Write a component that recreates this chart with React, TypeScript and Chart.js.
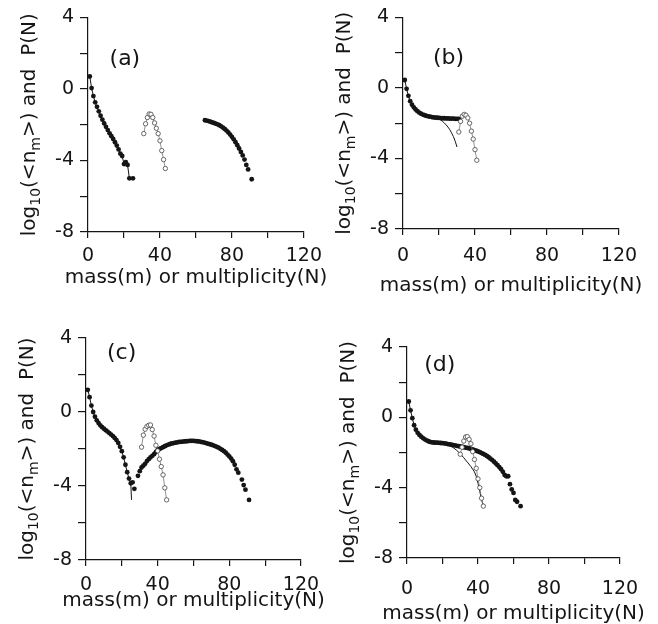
import React, { useEffect, useRef } from 'react';
import { Chart, registerables } from 'chart.js';
Chart.register(...registerables);

// ---------- shared axis text ----------
const X_AXIS_TITLE = 'mass(m) or multiplicity(N)';
const X_LABELED = [0, 40, 80, 120];
const Y_LABELED = [4, 0, -4, -8];
const PANEL_LABELS = ['(a)', '(b)', '(c)', '(d)'];

// ---------- panel (a) ----------
const A_FALL_M = [1, 2, 3, 4, 5, 6, 7, 8, 9, 10, 11, 12, 13, 14, 15, 16, 17, 18, 19, 20, 21, 22, 23, 25];
const A_FALL_V = [0.7, 0.05, -0.4, -0.75, -1.0, -1.25, -1.5, -1.72, -1.93, -2.12, -2.3, -2.48, -2.64, -2.8, -2.98, -3.17, -3.38, -3.62, -3.75, -4.2, -4.1, -4.25, -5.0, -5.0];
const A_OPEN_N = [31, 32, 33, 34, 35, 36, 37, 38, 39, 40, 41, 42, 43];
const A_OPEN_V = [-2.5, -1.95, -1.6, -1.4, -1.42, -1.6, -1.9, -2.2, -2.5, -2.9, -3.45, -3.95, -4.45];
const A_ARC_M = [65, 66, 67, 68, 69, 70, 71, 72, 73, 74, 75, 76, 77, 78, 79, 80, 81, 82, 83, 84, 85, 86, 87, 88, 89, 91];
const A_ARC_V = [-1.75, -1.77, -1.8, -1.83, -1.87, -1.9, -1.94, -1.98, -2.03, -2.09, -2.16, -2.24, -2.33, -2.43, -2.55, -2.68, -2.82, -2.98, -3.15, -3.33, -3.52, -3.72, -3.95, -4.25, -4.5, -5.05];

// ---------- panel (b) ----------
const B_DOT_M = [1, 2, 3, 4, 5, 6, 7, 8, 9, 10, 11, 12, 13, 14, 15, 16, 17, 18, 19, 20, 21, 22, 23, 24, 25, 26, 27, 28, 29, 30, 31];
const B_DOT_V = [0.45, -0.05, -0.45, -0.75, -0.95, -1.1, -1.22, -1.32, -1.4, -1.46, -1.51, -1.55, -1.58, -1.61, -1.63, -1.65, -1.67, -1.68, -1.69, -1.7, -1.71, -1.72, -1.72, -1.73, -1.73, -1.74, -1.74, -1.74, -1.75, -1.75, -1.75];
const B_CURVE_M = [1, 2, 3, 4, 5, 6, 7, 8, 9, 10, 11, 12, 13, 14, 15, 16, 17, 18, 19, 20, 21, 22, 23, 24, 25, 26, 27, 28, 29, 30];
const B_CURVE_V = [0.45, -0.05, -0.45, -0.75, -0.95, -1.1, -1.22, -1.32, -1.4, -1.46, -1.51, -1.55, -1.58, -1.61, -1.63, -1.65, -1.67, -1.68, -1.72, -1.76, -1.82, -1.9, -1.99, -2.1, -2.22, -2.37, -2.55, -2.76, -3.02, -3.35];
const B_OPEN_N = [31, 32, 33, 34, 35, 36, 37, 38, 39, 40, 41];
const B_OPEN_V = [-2.5, -1.9, -1.6, -1.5, -1.55, -1.7, -2.0, -2.45, -2.9, -3.5, -4.1];

// ---------- panel (c) ----------
const C_FALL_M = [1, 2, 3, 4, 5, 6, 7, 8, 9, 10, 11, 12, 13, 14, 15, 16, 17, 18, 19, 20, 21, 22, 23, 24, 25];
const C_FALL_V = [1.2, 0.8, 0.35, 0.0, -0.25, -0.45, -0.6, -0.72, -0.82, -0.9, -0.98, -1.06, -1.14, -1.22, -1.3, -1.4, -1.52, -1.67, -1.88, -2.12, -2.45, -2.85, -3.25, -3.6, -3.85];
const C_LINE_M = [1, 2, 3, 4, 5, 6, 7, 8, 9, 10, 11, 12, 13, 14, 15, 16, 17, 18, 19, 20, 21, 22, 23, 24, 25, 25.4];
const C_LINE_V = [1.2, 0.8, 0.35, 0.0, -0.25, -0.45, -0.6, -0.72, -0.82, -0.9, -0.98, -1.06, -1.14, -1.22, -1.3, -1.4, -1.52, -1.67, -1.88, -2.12, -2.45, -2.85, -3.25, -3.6, -3.85, -4.75];
const C_RISE_M = [26, 27, 29, 30, 31, 32, 33, 34, 35, 36, 37, 38, 39, 40, 41, 42, 43, 44, 45, 46, 47, 48, 49, 50, 51, 52, 53, 54, 55, 56, 57, 58, 59, 60, 61, 62, 63, 64, 65, 66, 67, 68, 69, 70, 71, 72, 73, 74, 75, 76, 77, 78, 79, 80, 81, 82, 83, 84, 85, 87, 88, 89, 91];
const C_RISE_V = [-3.8, -4.15, -3.45, -3.2, -3.0, -2.9, -2.8, -2.65, -2.55, -2.45, -2.37, -2.28, -2.15, -2.05, -2.0, -1.95, -1.9, -1.85, -1.8, -1.76, -1.73, -1.7, -1.68, -1.66, -1.64, -1.62, -1.61, -1.6, -1.59, -1.58, -1.57, -1.56, -1.56, -1.56, -1.57, -1.58, -1.59, -1.61, -1.63, -1.65, -1.68, -1.71, -1.74, -1.77, -1.8, -1.84, -1.88, -1.93, -1.99, -2.05, -2.12, -2.2, -2.3, -2.4, -2.52, -2.66, -2.85, -3.1, -3.28, -3.65, -3.95, -4.2, -4.75];
const C_OPEN_N = [31, 32, 33, 34, 35, 36, 37, 38, 39, 40, 41, 42, 43, 44, 45];
const C_OPEN_V = [-1.9, -1.25, -0.93, -0.78, -0.72, -0.7, -0.95, -1.3, -1.8, -2.1, -2.55, -2.95, -3.4, -4.1, -4.75];

// ---------- panel (d) ----------
const D_DOT_M = [1, 2, 3, 4, 5, 6, 7, 8, 9, 10, 11, 12, 13, 14, 15, 16, 17, 18, 19, 20, 21, 22, 23, 24, 25, 26, 27, 28, 29, 30, 31, 32, 33, 34, 35, 36, 37, 38, 39, 40, 41, 42, 43, 44, 45, 46, 47, 48, 49, 50, 51, 52, 53, 54, 55, 56, 57, 58, 59, 60, 61, 62, 64];
const D_DOT_V = [0.9, 0.4, -0.05, -0.45, -0.7, -0.88, -1.0, -1.1, -1.18, -1.25, -1.31, -1.36, -1.4, -1.42, -1.43, -1.44, -1.44, -1.45, -1.46, -1.47, -1.48, -1.5, -1.52, -1.54, -1.56, -1.58, -1.6, -1.62, -1.64, -1.66, -1.68, -1.7, -1.72, -1.74, -1.77, -1.8, -1.83, -1.86, -1.9, -1.94, -1.98, -2.03, -2.08, -2.14, -2.2, -2.27, -2.35, -2.43, -2.52, -2.62, -2.72, -2.83, -2.95, -3.1, -3.28, -3.35, -3.35, -3.8, -4.1, -4.3, -4.7, -4.8, -5.05];
const D_CURVE_M = [1, 2, 3, 4, 5, 6, 7, 8, 9, 10, 11, 12, 13, 14, 15, 16, 17, 18, 19, 20, 21, 22, 24, 26, 28, 30, 32, 34, 36, 38, 39, 40, 41, 42, 43];
const D_CURVE_V = [0.9, 0.4, -0.05, -0.45, -0.7, -0.88, -1.0, -1.1, -1.18, -1.25, -1.31, -1.36, -1.4, -1.42, -1.43, -1.44, -1.44, -1.45, -1.46, -1.47, -1.48, -1.5, -1.6, -1.72, -1.88, -2.07, -2.3, -2.55, -2.8, -3.1, -3.35, -3.75, -4.2, -4.7, -5.0];
const D_OPEN_N = [30, 31, 32, 33, 34, 35, 36, 37, 38, 39, 40, 41, 42, 43];
const D_OPEN_V = [-2.1, -1.7, -1.35, -1.12, -1.1, -1.25, -1.5, -1.95, -2.4, -2.9, -3.5, -4.0, -4.6, -5.05];

const FONT = '"DejaVu Sans", "Liberation Sans", sans-serif';
const INK = '#151515';

const pts = (xs: number[], ys: number[]) => xs.map((x, i) => ({ x, y: ys[i] }));

const dots = (xs: number[], ys: number[], line = false) => ({
  data: pts(xs, ys),
  showLine: line,
  borderColor: INK,
  borderWidth: 1,
  pointRadius: 2.4,
  pointBackgroundColor: INK,
  pointBorderWidth: 0,
});
const open = (xs: number[], ys: number[]) => ({
  data: pts(xs, ys),
  showLine: true,
  borderColor: '#777',
  borderWidth: 0.8,
  pointRadius: 2.2,
  pointBackgroundColor: '#fff',
  pointBorderColor: '#444',
  pointBorderWidth: 0.8,
});
const curve = (xs: number[], ys: number[]) => ({
  data: pts(xs, ys),
  showLine: true,
  borderColor: INK,
  borderWidth: 1,
  pointRadius: 0,
});

const PANELS = [
  { left: 0, top: 0, yw: 88, pr: 25, pt: 16, xh: 80, xpad: 7, tOff: 46, lx: 20.5, ly: 1.67,
    datasets: () => [open(A_OPEN_N, A_OPEN_V), dots(A_FALL_M, A_FALL_V, true), dots(A_ARC_M, A_ARC_V)] },
  { left: 329, top: 0, yw: 74, pr: 39, pt: 13, xh: 83, xpad: 10, tOff: 57, lx: 25.3, ly: 1.68,
    datasets: () => [open(B_OPEN_N, B_OPEN_V), curve(B_CURVE_M, B_CURVE_V), dots(B_DOT_M, B_DOT_V)] },
  { left: 0, top: 312, yw: 86, pr: 28, pt: 26, xh: 64, xpad: 8, tOff: 41, lx: 19.9, ly: 3.19,
    datasets: () => [open(C_OPEN_N, C_OPEN_V), curve(C_LINE_M, C_LINE_V), dots(C_FALL_M, C_FALL_V), dots(C_RISE_M, C_RISE_V)] },
  { left: 329, top: 312, yw: 78, pr: 38, pt: 35, xh: 66, xpad: 14, tOff: 56, lx: 18.5, ly: 2.96,
    datasets: () => [open(D_OPEN_N, D_OPEN_V), curve(D_CURVE_M, D_CURVE_V), dots(D_DOT_M, D_DOT_V)] },
];

const decor = {
  id: 'decor',
  afterDraw(chart: any, _args: any, opts: any) {
    const { ctx, chartArea, scales } = chart;
    const big = `20px ${FONT}`;
    const small = `14px ${FONT}`;
    // rotated y-axis title with subscripts
    ctx.save();
    ctx.fillStyle = INK;
    ctx.textBaseline = 'middle';
    const parts = [
      { t: 'log', f: big, dy: 0 },
      { t: '10', f: small, dy: 6 },
      { t: '(<n', f: big, dy: 0 },
      { t: 'm', f: small, dy: 6 },
      { t: '>) and  P(N)', f: big, dy: 0 },
    ];
    let total = 0;
    for (const p of parts) { ctx.font = p.f; total += ctx.measureText(p.t).width; }
    ctx.translate(chartArea.left - 58, (chartArea.top + chartArea.bottom) / 2);
    ctx.rotate(-Math.PI / 2);
    let x = -total / 2;
    ctx.textAlign = 'left';
    for (const p of parts) {
      ctx.font = p.f;
      ctx.fillText(p.t, x, p.dy);
      x += ctx.measureText(p.t).width;
    }
    ctx.restore();
    // x-axis title (wider than the plot, so drawn without width limit)
    ctx.save();
    ctx.fillStyle = INK;
    ctx.font = big;
    ctx.textAlign = 'center';
    ctx.textBaseline = 'middle';
    ctx.fillText(opts.xTitle, (chartArea.left + chartArea.right) / 2, chartArea.bottom + opts.tOff);
    // panel label
    ctx.font = `22px ${FONT}`;
    ctx.fillText(opts.label, scales.x.getPixelForValue(opts.lx), scales.y.getPixelForValue(opts.ly));
    ctx.restore();
  },
};

function Panel({ idx }: { idx: number }) {
  const ref = useRef<HTMLCanvasElement>(null);
  const p = PANELS[idx];
  useEffect(() => {
    if (!ref.current) return;
    const chart = new Chart(ref.current, {
      type: 'scatter',
      data: { datasets: p.datasets() as any },
      options: {
        animation: false,
        responsive: false,
        events: [],
        layout: { padding: { left: 0, right: p.pr, top: p.pt, bottom: 0 } },
        plugins: {
          legend: { display: false },
          tooltip: { enabled: false },
          decor: { label: PANEL_LABELS[idx], lx: p.lx, ly: p.ly, xTitle: X_AXIS_TITLE, tOff: p.tOff },
        } as any,
        scales: {
          x: {
            type: 'linear',
            min: 0,
            max: 120,
            afterFit: (s: any) => { s.height = p.xh; },
            border: { display: true, color: INK, width: 1.2 },
            grid: { drawOnChartArea: false, drawTicks: true, tickLength: 6, color: INK, lineWidth: 1.2 },
            ticks: {
              stepSize: 20,
              autoSkip: false,
              maxRotation: 0,
              padding: p.xpad,
              color: INK,
              font: { family: FONT, size: 19 },
              callback: (v: any) => (X_LABELED.includes(Number(v)) ? String(v) : ''),
            },
          },
          y: {
            type: 'linear',
            min: -8,
            max: 4,
            afterFit: (s: any) => { s.width = p.yw; },
            border: { display: true, color: INK, width: 1.2 },
            grid: { drawOnChartArea: false, drawTicks: true, tickLength: 8, color: INK, lineWidth: 1.2 },
            ticks: {
              stepSize: 2,
              autoSkip: false,
              padding: 6,
              color: INK,
              font: { family: FONT, size: 19 },
              callback: (v: any) => (Y_LABELED.includes(Number(v)) ? String(v) : ''),
            },
          },
        },
      },
      plugins: [decor as any],
    });
    return () => chart.destroy();
  }, []);
  return (
    <canvas
      ref={ref}
      width={329}
      height={312}
      style={{ position: 'absolute', left: p.left, top: p.top, width: 329, height: 312 }}
    />
  );
}

export default function App() {
  return (
    <div style={{ position: 'fixed', left: 0, top: 0, width: 658, height: 624, background: '#fff', overflow: 'hidden' }}>
      {PANELS.map((_, i) => (
        <Panel key={i} idx={i} />
      ))}
    </div>
  );
}
